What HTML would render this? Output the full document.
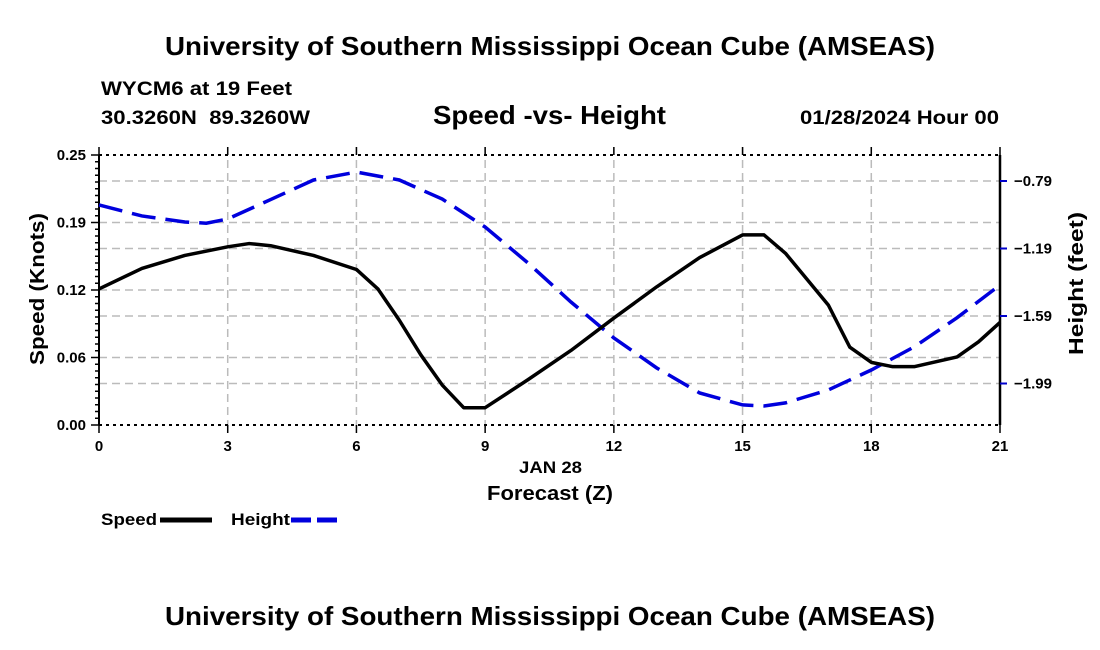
<!DOCTYPE html>
<html><head><meta charset="utf-8"><style>
body{margin:0;background:#fff;}
svg{display:block;font-family:"Liberation Sans",Arial,sans-serif;font-weight:bold;}
</style></head><body>
<svg id="chart" width="1100" height="650">
<text x="165" y="55" font-size="26" textLength="770" lengthAdjust="spacingAndGlyphs">University of Southern Mississippi Ocean Cube (AMSEAS)</text>
<text x="101" y="95" font-size="19" textLength="191" lengthAdjust="spacingAndGlyphs">WYCM6 at 19 Feet</text>
<text x="101" y="124" font-size="19" textLength="209" lengthAdjust="spacingAndGlyphs">30.3260N&#160;&#160;89.3260W</text>
<text x="433" y="124" font-size="26" textLength="233" lengthAdjust="spacingAndGlyphs">Speed -vs- Height</text>
<text x="800" y="124" font-size="19" textLength="199" lengthAdjust="spacingAndGlyphs">01/28/2024 Hour 00</text>
<text x="165" y="625" font-size="26" textLength="770" lengthAdjust="spacingAndGlyphs">University of Southern Mississippi Ocean Cube (AMSEAS)</text>
<text transform="translate(44,365) rotate(-90)" font-size="20" textLength="152" lengthAdjust="spacingAndGlyphs">Speed (Knots)</text>
<text transform="translate(1083,355) rotate(-90)" font-size="20" textLength="143" lengthAdjust="spacingAndGlyphs">Height (feet)</text>
<text x="519" y="473" font-size="17" textLength="63" lengthAdjust="spacingAndGlyphs">JAN 28</text>
<text x="487" y="500" font-size="20" textLength="126" lengthAdjust="spacingAndGlyphs">Forecast (Z)</text>
<g>
<text x="101" y="525" font-size="17" textLength="56" lengthAdjust="spacingAndGlyphs">Speed</text>
<line x1="160" y1="520" x2="212" y2="520" stroke="#000" stroke-width="5"/>
<text x="231" y="525" font-size="17" textLength="59" lengthAdjust="spacingAndGlyphs">Height</text>
<line x1="291" y1="520" x2="343" y2="520" stroke="#0000dd" stroke-width="5" stroke-dasharray="20,6"/>
</g>
<g id="plot"></g>
</svg>
<script>
const speedHours=[0,1,2,3,3.5,4,5,6,6.5,7,7.5,8,8.5,9,10,11,12,13,14,15,15.5,16,17,17.5,18,18.5,19,20,20.5,21];
const speedValues=[0.126,0.145,0.157,0.165,0.168,0.166,0.157,0.144,0.126,0.097,0.065,0.037,0.016,0.016,0.042,0.069,0.099,0.128,0.155,0.176,0.176,0.159,0.111,0.072,0.058,0.054,0.054,0.063,0.077,0.095];
const heightHours=[0,1,2,2.5,3,4,5,6,7,8,9,10,11,12,13,14,15,15.5,16,17,18,19,20,21];
const heightValues=[-0.932,-0.997,-1.033,-1.04,-1.015,-0.90,-0.784,-0.737,-0.784,-0.897,-1.063,-1.276,-1.507,-1.72,-1.898,-2.046,-2.117,-2.123,-2.105,-2.028,-1.91,-1.773,-1.60,-1.406];
const xTicks=[0,3,6,9,12,15,18,21];
const leftTicks=[0,0.0625,0.125,0.1875,0.25];
const leftTickLabels=["0.00","0.06","0.12","0.19","0.25"];
const rightTicks=[-0.79,-1.19,-1.59,-1.99];
const rightTickLabels=["\u22120.79","\u22121.19","\u22121.59","\u22121.99"];

const X0=99,X1=1000,YT=155,YB=425;
const xs=h=>X0+(h/21)*(X1-X0);
const ysL=v=>YB-(v/0.25)*(YB-YT);
const ysR=v=>181+((-0.79-v)/0.4)*67.5;
const NS="http://www.w3.org/2000/svg";
const g=document.getElementById('plot');
function mk(t,a){const e=document.createElementNS(NS,t);for(const k in a)e.setAttribute(k,a[k]);g.appendChild(e);return e;}
xTicks.forEach(h=>{if(h>0&&h<21){const e=mk('line',{x1:xs(h),x2:xs(h),y1:YT-8,y2:YB+8,stroke:'#bbb','stroke-width':1.5,'stroke-dasharray':'8,5'});

}});
leftTicks.forEach(v=>{if(v>0&&v<0.25){const e=mk('line',{x1:X0,x2:X1,y1:ysL(v),y2:ysL(v),stroke:'#bbb','stroke-width':1.5,'stroke-dasharray':'8,5'});

}});
rightTicks.forEach(v=>{const e=mk('line',{x1:X0,x2:X1,y1:ysR(v),y2:ysR(v),stroke:'#bbb','stroke-width':1.5,'stroke-dasharray':'8,5'});

});
[YT,YB].forEach(y=>{const e=mk('line',{x1:X0,x2:X1,y1:y,y2:y,stroke:'#000','stroke-width':2,'stroke-dasharray':'3,4'});

});
let e=mk('line',{x1:X0,x2:X0,y1:YT,y2:YB,stroke:'#000','stroke-width':2});


e=mk('line',{x1:X1,x2:X1,y1:YT,y2:YB,stroke:'#000','stroke-width':2.5});


for(let i=0;i<=40;i++){const y=YB-i*(YB-YT)/40;const t=mk('line',{x1:X0-(i%10==0?8:4),x2:X0,y1:y,y2:y,stroke:'#000','stroke-width':1.5});

}
leftTicks.forEach((v,i)=>{const t=mk('text',{x:X0-13,y:ysL(v)+5,'font-size':15,'text-anchor':'end'});t.textContent=leftTickLabels[i];

});
rightTicks.forEach((v,i)=>{const l=mk('line',{x1:X1,x2:X1+7,y1:ysR(v),y2:ysR(v),stroke:'#0000cc','stroke-width':2});


const t=mk('text',{x:X1+14,y:ysR(v)+5,'font-size':15});t.textContent=rightTickLabels[i];

});
xTicks.forEach(h=>{
const t1=mk('line',{x1:xs(h),x2:xs(h),y1:YT-8,y2:YT,stroke:'#000','stroke-width':1.5});


const t2=mk('line',{x1:xs(h),x2:xs(h),y1:YB,y2:YB+8,stroke:'#000','stroke-width':1.5});


const t=mk('text',{x:xs(h),y:YB+26,'font-size':15,'text-anchor':'middle'});t.textContent=h;

});
const hp=heightHours.map((h,i)=>xs(h)+','+ysR(heightValues[i])).join(' ');
e=mk('polyline',{points:hp,fill:'none',stroke:'#0000dd','stroke-width':3.5,'stroke-dasharray':'24,10'});


const sp=speedHours.map((h,i)=>xs(h)+','+ysL(speedValues[i])).join(' ');
e=mk('polyline',{points:sp,fill:'none',stroke:'#000','stroke-width':3.5,'stroke-linejoin':'round'});


</script>
</body></html>
